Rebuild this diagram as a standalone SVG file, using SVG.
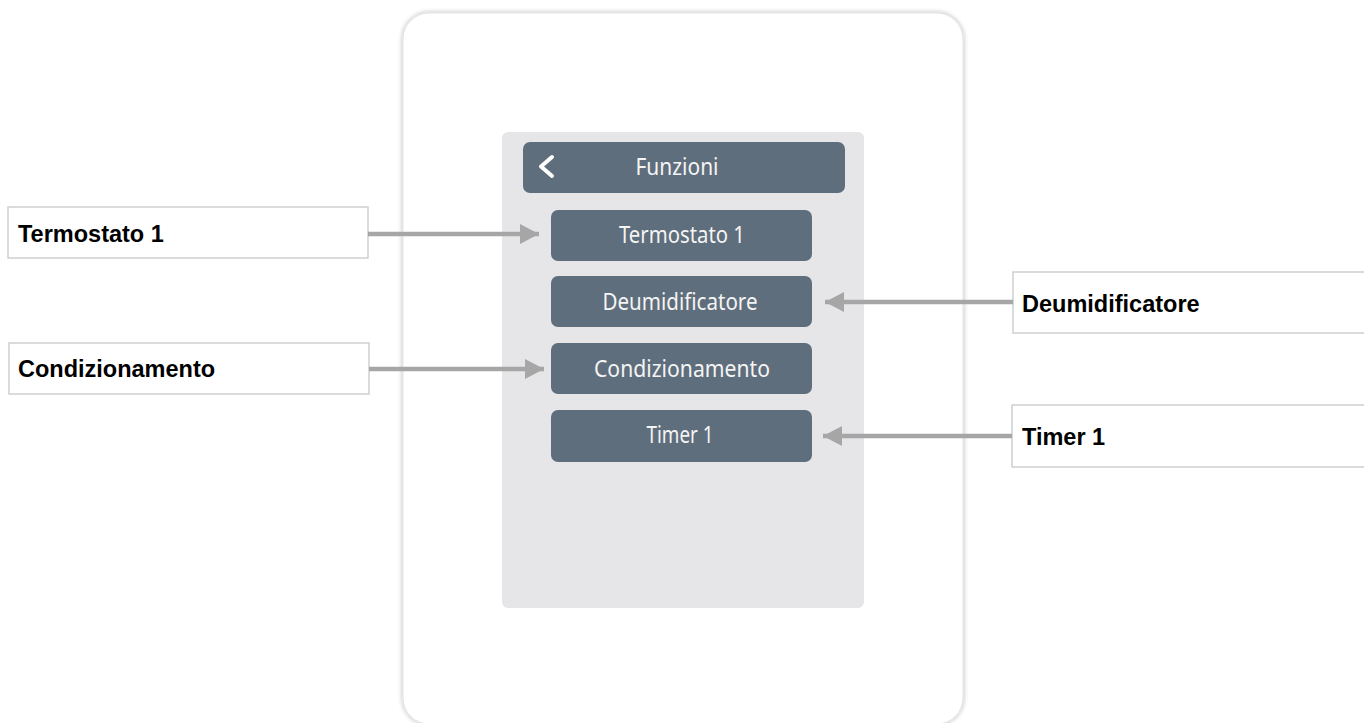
<svg xmlns="http://www.w3.org/2000/svg" width="1364" height="723" viewBox="0 0 1364 723">
<defs>
<filter id="sh" x="-10%" y="-10%" width="120%" height="120%">
<feGaussianBlur in="SourceAlpha" stdDeviation="2.5"/>
<feComponentTransfer><feFuncA type="linear" slope="0.3"/></feComponentTransfer>
<feMerge><feMergeNode/><feMergeNode in="SourceGraphic"/></feMerge>
</filter>
<marker id="ah" viewBox="0 0 19 20" refX="19" refY="10" markerWidth="19" markerHeight="20" orient="auto" markerUnits="userSpaceOnUse">
<path d="M0,0 L19,10 L0,20 Z" fill="#a6a6a6"/>
</marker>
</defs>
<style>
.btn{fill:#5f6e7c}
.btxt{font-family:"Noto Sans","DejaVu Sans",sans-serif;font-size:23px;fill:#f4f4f4;text-anchor:middle}
.lbl{fill:#ffffff;stroke:#cfcfcf;stroke-width:1.5}
.ltxt{font-family:"Liberation Sans",Arial,sans-serif;font-size:23.5px;font-weight:bold;fill:#000}
.conn{stroke:#a6a6a6;stroke-width:4.5;fill:none;marker-end:url(#ah)}
</style>
<rect width="1364" height="723" fill="#ffffff"/>
<g id="device">
<rect x="403" y="13" width="560" height="711" rx="26" fill="#ffffff" stroke="#e2e2e2" stroke-width="1" filter="url(#sh)"/>
<rect x="502" y="132" width="362" height="476" rx="6" fill="#e6e6e8"/>
</g>
<g id="header">
<rect class="btn" x="523" y="142" width="322" height="51" rx="7"/>
<path d="M552,157 L541,166.5 L552,176" stroke="#ffffff" stroke-width="4" fill="none" stroke-linecap="round" stroke-linejoin="round"/>
<text class="btxt" x="677" y="175" textLength="83" lengthAdjust="spacingAndGlyphs">Funzioni</text>
</g>
<g id="btn-termostato">
<rect class="btn" x="551" y="210" width="261" height="51" rx="7"/>
<text class="btxt" x="682" y="243" textLength="126" lengthAdjust="spacingAndGlyphs">Termostato 1</text>
</g>
<g id="btn-deumidificatore">
<rect class="btn" x="551" y="276" width="261" height="51" rx="7"/>
<text class="btxt" x="680" y="310" textLength="155" lengthAdjust="spacingAndGlyphs">Deumidificatore</text>
</g>
<g id="btn-condizionamento">
<rect class="btn" x="551" y="343" width="261" height="51" rx="7"/>
<text class="btxt" x="682" y="377" textLength="176" lengthAdjust="spacingAndGlyphs">Condizionamento</text>
</g>
<g id="btn-timer">
<rect class="btn" x="551" y="410" width="261" height="52" rx="7"/>
<text class="btxt" x="680" y="443" textLength="67" lengthAdjust="spacingAndGlyphs">Timer 1</text>
</g>
<g id="lbl-termostato">
<rect class="lbl" x="8" y="207" width="360" height="51"/>
<text class="ltxt" x="18" y="242">Termostato 1</text>
</g>
<g id="lbl-condizionamento">
<rect class="lbl" x="9" y="343" width="360" height="51"/>
<text class="ltxt" x="18" y="377">Condizionamento</text>
</g>
<g id="lbl-deumidificatore">
<rect class="lbl" x="1013" y="272" width="360" height="61"/>
<text class="ltxt" x="1022" y="312">Deumidificatore</text>
</g>
<g id="lbl-timer">
<rect class="lbl" x="1012" y="405" width="360" height="62"/>
<text class="ltxt" x="1022" y="445">Timer 1</text>
</g>
<g id="connectors">
<line class="conn" x1="368" y1="234" x2="539" y2="234"/>
<line class="conn" x1="369" y1="369" x2="544" y2="369"/>
<line class="conn" x1="1013" y1="302" x2="825" y2="302"/>
<line class="conn" x1="1012" y1="436" x2="823" y2="436"/>
</g>
</svg>
